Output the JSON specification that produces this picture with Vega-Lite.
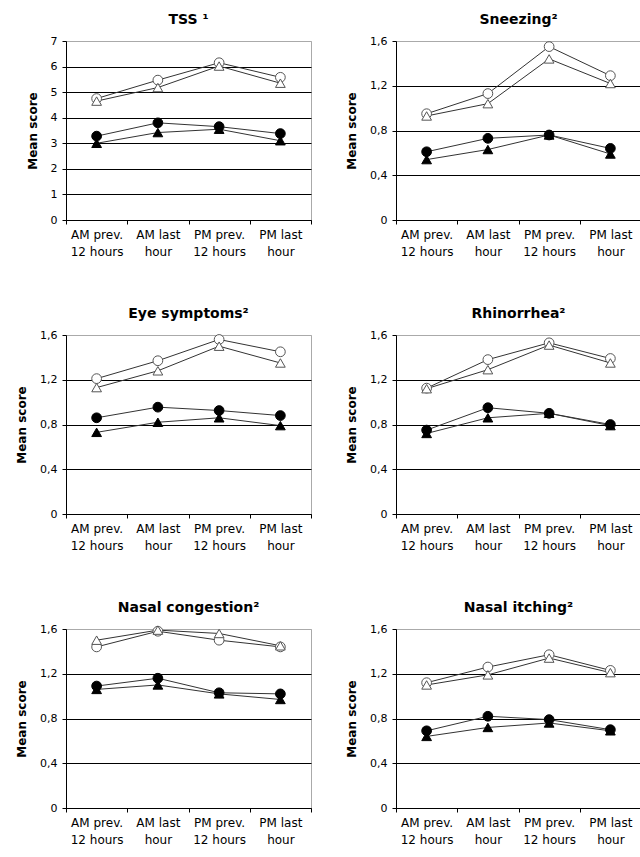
{
  "$schema": "https://vega.github.io/schema/vega-lite/v6.json",
  "background": "white",
  "padding": {"left": 15, "top": 12, "right": 0, "bottom": 0},
  "datasets": {
    "scores": [
      {"panel": "TSS", "time": "AM prev. 12 hours", "series": "open circle", "value": 4.75},
      {"panel": "TSS", "time": "AM last hour", "series": "open circle", "value": 5.47},
      {"panel": "TSS", "time": "PM prev. 12 hours", "series": "open circle", "value": 6.15},
      {"panel": "TSS", "time": "PM last hour", "series": "open circle", "value": 5.58},
      {"panel": "TSS", "time": "AM prev. 12 hours", "series": "open triangle", "value": 4.65},
      {"panel": "TSS", "time": "AM last hour", "series": "open triangle", "value": 5.18},
      {"panel": "TSS", "time": "PM prev. 12 hours", "series": "open triangle", "value": 6.02},
      {"panel": "TSS", "time": "PM last hour", "series": "open triangle", "value": 5.35},
      {"panel": "TSS", "time": "AM prev. 12 hours", "series": "filled circle", "value": 3.28},
      {"panel": "TSS", "time": "AM last hour", "series": "filled circle", "value": 3.8},
      {"panel": "TSS", "time": "PM prev. 12 hours", "series": "filled circle", "value": 3.65},
      {"panel": "TSS", "time": "PM last hour", "series": "filled circle", "value": 3.38},
      {"panel": "TSS", "time": "AM prev. 12 hours", "series": "filled triangle", "value": 3.0},
      {"panel": "TSS", "time": "AM last hour", "series": "filled triangle", "value": 3.42},
      {"panel": "TSS", "time": "PM prev. 12 hours", "series": "filled triangle", "value": 3.55},
      {"panel": "TSS", "time": "PM last hour", "series": "filled triangle", "value": 3.1},

      {"panel": "Sneezing", "time": "AM prev. 12 hours", "series": "open circle", "value": 0.95},
      {"panel": "Sneezing", "time": "AM last hour", "series": "open circle", "value": 1.13},
      {"panel": "Sneezing", "time": "PM prev. 12 hours", "series": "open circle", "value": 1.55},
      {"panel": "Sneezing", "time": "PM last hour", "series": "open circle", "value": 1.29},
      {"panel": "Sneezing", "time": "AM prev. 12 hours", "series": "open triangle", "value": 0.93},
      {"panel": "Sneezing", "time": "AM last hour", "series": "open triangle", "value": 1.04},
      {"panel": "Sneezing", "time": "PM prev. 12 hours", "series": "open triangle", "value": 1.44},
      {"panel": "Sneezing", "time": "PM last hour", "series": "open triangle", "value": 1.22},
      {"panel": "Sneezing", "time": "AM prev. 12 hours", "series": "filled circle", "value": 0.61},
      {"panel": "Sneezing", "time": "AM last hour", "series": "filled circle", "value": 0.73},
      {"panel": "Sneezing", "time": "PM prev. 12 hours", "series": "filled circle", "value": 0.76},
      {"panel": "Sneezing", "time": "PM last hour", "series": "filled circle", "value": 0.64},
      {"panel": "Sneezing", "time": "AM prev. 12 hours", "series": "filled triangle", "value": 0.54},
      {"panel": "Sneezing", "time": "AM last hour", "series": "filled triangle", "value": 0.63},
      {"panel": "Sneezing", "time": "PM prev. 12 hours", "series": "filled triangle", "value": 0.76},
      {"panel": "Sneezing", "time": "PM last hour", "series": "filled triangle", "value": 0.59},

      {"panel": "Eye symptoms", "time": "AM prev. 12 hours", "series": "open circle", "value": 1.21},
      {"panel": "Eye symptoms", "time": "AM last hour", "series": "open circle", "value": 1.37},
      {"panel": "Eye symptoms", "time": "PM prev. 12 hours", "series": "open circle", "value": 1.56},
      {"panel": "Eye symptoms", "time": "PM last hour", "series": "open circle", "value": 1.45},
      {"panel": "Eye symptoms", "time": "AM prev. 12 hours", "series": "open triangle", "value": 1.13},
      {"panel": "Eye symptoms", "time": "AM last hour", "series": "open triangle", "value": 1.28},
      {"panel": "Eye symptoms", "time": "PM prev. 12 hours", "series": "open triangle", "value": 1.5},
      {"panel": "Eye symptoms", "time": "PM last hour", "series": "open triangle", "value": 1.35},
      {"panel": "Eye symptoms", "time": "AM prev. 12 hours", "series": "filled circle", "value": 0.86},
      {"panel": "Eye symptoms", "time": "AM last hour", "series": "filled circle", "value": 0.955},
      {"panel": "Eye symptoms", "time": "PM prev. 12 hours", "series": "filled circle", "value": 0.925},
      {"panel": "Eye symptoms", "time": "PM last hour", "series": "filled circle", "value": 0.88},
      {"panel": "Eye symptoms", "time": "AM prev. 12 hours", "series": "filled triangle", "value": 0.73},
      {"panel": "Eye symptoms", "time": "AM last hour", "series": "filled triangle", "value": 0.82},
      {"panel": "Eye symptoms", "time": "PM prev. 12 hours", "series": "filled triangle", "value": 0.86},
      {"panel": "Eye symptoms", "time": "PM last hour", "series": "filled triangle", "value": 0.79},

      {"panel": "Rhinorrhea", "time": "AM prev. 12 hours", "series": "open circle", "value": 1.125},
      {"panel": "Rhinorrhea", "time": "AM last hour", "series": "open circle", "value": 1.38},
      {"panel": "Rhinorrhea", "time": "PM prev. 12 hours", "series": "open circle", "value": 1.53},
      {"panel": "Rhinorrhea", "time": "PM last hour", "series": "open circle", "value": 1.39},
      {"panel": "Rhinorrhea", "time": "AM prev. 12 hours", "series": "open triangle", "value": 1.12},
      {"panel": "Rhinorrhea", "time": "AM last hour", "series": "open triangle", "value": 1.29},
      {"panel": "Rhinorrhea", "time": "PM prev. 12 hours", "series": "open triangle", "value": 1.51},
      {"panel": "Rhinorrhea", "time": "PM last hour", "series": "open triangle", "value": 1.35},
      {"panel": "Rhinorrhea", "time": "AM prev. 12 hours", "series": "filled circle", "value": 0.75},
      {"panel": "Rhinorrhea", "time": "AM last hour", "series": "filled circle", "value": 0.95},
      {"panel": "Rhinorrhea", "time": "PM prev. 12 hours", "series": "filled circle", "value": 0.9},
      {"panel": "Rhinorrhea", "time": "PM last hour", "series": "filled circle", "value": 0.8},
      {"panel": "Rhinorrhea", "time": "AM prev. 12 hours", "series": "filled triangle", "value": 0.72},
      {"panel": "Rhinorrhea", "time": "AM last hour", "series": "filled triangle", "value": 0.86},
      {"panel": "Rhinorrhea", "time": "PM prev. 12 hours", "series": "filled triangle", "value": 0.9},
      {"panel": "Rhinorrhea", "time": "PM last hour", "series": "filled triangle", "value": 0.79},

      {"panel": "Nasal congestion", "time": "AM prev. 12 hours", "series": "open circle", "value": 1.44},
      {"panel": "Nasal congestion", "time": "AM last hour", "series": "open circle", "value": 1.58},
      {"panel": "Nasal congestion", "time": "PM prev. 12 hours", "series": "open circle", "value": 1.5},
      {"panel": "Nasal congestion", "time": "PM last hour", "series": "open circle", "value": 1.44},
      {"panel": "Nasal congestion", "time": "AM prev. 12 hours", "series": "open triangle", "value": 1.5},
      {"panel": "Nasal congestion", "time": "AM last hour", "series": "open triangle", "value": 1.59},
      {"panel": "Nasal congestion", "time": "PM prev. 12 hours", "series": "open triangle", "value": 1.56},
      {"panel": "Nasal congestion", "time": "PM last hour", "series": "open triangle", "value": 1.45},
      {"panel": "Nasal congestion", "time": "AM prev. 12 hours", "series": "filled circle", "value": 1.09},
      {"panel": "Nasal congestion", "time": "AM last hour", "series": "filled circle", "value": 1.16},
      {"panel": "Nasal congestion", "time": "PM prev. 12 hours", "series": "filled circle", "value": 1.03},
      {"panel": "Nasal congestion", "time": "PM last hour", "series": "filled circle", "value": 1.02},
      {"panel": "Nasal congestion", "time": "AM prev. 12 hours", "series": "filled triangle", "value": 1.06},
      {"panel": "Nasal congestion", "time": "AM last hour", "series": "filled triangle", "value": 1.1},
      {"panel": "Nasal congestion", "time": "PM prev. 12 hours", "series": "filled triangle", "value": 1.02},
      {"panel": "Nasal congestion", "time": "PM last hour", "series": "filled triangle", "value": 0.97},

      {"panel": "Nasal itching", "time": "AM prev. 12 hours", "series": "open circle", "value": 1.12},
      {"panel": "Nasal itching", "time": "AM last hour", "series": "open circle", "value": 1.26},
      {"panel": "Nasal itching", "time": "PM prev. 12 hours", "series": "open circle", "value": 1.37},
      {"panel": "Nasal itching", "time": "PM last hour", "series": "open circle", "value": 1.23},
      {"panel": "Nasal itching", "time": "AM prev. 12 hours", "series": "open triangle", "value": 1.1},
      {"panel": "Nasal itching", "time": "AM last hour", "series": "open triangle", "value": 1.19},
      {"panel": "Nasal itching", "time": "PM prev. 12 hours", "series": "open triangle", "value": 1.34},
      {"panel": "Nasal itching", "time": "PM last hour", "series": "open triangle", "value": 1.21},
      {"panel": "Nasal itching", "time": "AM prev. 12 hours", "series": "filled circle", "value": 0.69},
      {"panel": "Nasal itching", "time": "AM last hour", "series": "filled circle", "value": 0.82},
      {"panel": "Nasal itching", "time": "PM prev. 12 hours", "series": "filled circle", "value": 0.79},
      {"panel": "Nasal itching", "time": "PM last hour", "series": "filled circle", "value": 0.7},
      {"panel": "Nasal itching", "time": "AM prev. 12 hours", "series": "filled triangle", "value": 0.64},
      {"panel": "Nasal itching", "time": "AM last hour", "series": "filled triangle", "value": 0.72},
      {"panel": "Nasal itching", "time": "PM prev. 12 hours", "series": "filled triangle", "value": 0.76},
      {"panel": "Nasal itching", "time": "PM last hour", "series": "filled triangle", "value": 0.69}
    ]
  },
  "data": {"name": "scores"},
  "columns": 2,
  "spacing": {"row": 48, "column": 33},
  "concat": [
    {
      "title": "TSS ¹",
      "width": 245, "height": 179,
      "transform": [{"filter": "datum.panel == 'TSS'"}],
      "encoding": {
        "x": {"field": "time", "type": "nominal", "bandPosition": 0.5, "title": null,
              "sort": ["AM prev. 12 hours", "AM last hour", "PM prev. 12 hours", "PM last hour"],
              "scale": {"type": "band", "paddingInner": 0, "paddingOuter": 0}},
        "y": {"field": "value", "type": "quantitative", "title": "Mean score",
              "scale": {"domain": [0, 7], "nice": false, "zero": true},
              "axis": {"values": [0, 1, 2, 3, 4, 5, 6, 7],
                       "gridColor": {"condition": {"test": "datum.value == 7", "value": "#aaaaaa"}, "value": "black"}}}
      },
      "layer": [
        {"mark": {"type": "line", "color": "#333333", "strokeWidth": 1}, "encoding": {"detail": {"field": "series"}}},
        {"mark": {"type": "point", "size": 95, "strokeWidth": 1, "opacity": 1},
         "encoding": {
           "shape": {"field": "series", "legend": null, "scale": {"domain": ["open circle", "open triangle", "filled circle", "filled triangle"], "range": ["circle", "triangle-up", "circle", "triangle-up"]}},
           "fill": {"field": "series", "legend": null, "scale": {"domain": ["open circle", "open triangle", "filled circle", "filled triangle"], "range": ["white", "white", "black", "black"]}},
           "stroke": {"field": "series", "legend": null, "scale": {"domain": ["open circle", "open triangle", "filled circle", "filled triangle"], "range": ["#555555", "#555555", "black", "black"]}}
         }}
      ]
    },
    {
      "title": "Sneezing²",
      "width": 245, "height": 179,
      "transform": [{"filter": "datum.panel == 'Sneezing'"}],
      "encoding": {
        "x": {"field": "time", "type": "nominal", "bandPosition": 0.5, "title": null,
              "sort": ["AM prev. 12 hours", "AM last hour", "PM prev. 12 hours", "PM last hour"],
              "scale": {"type": "band", "paddingInner": 0, "paddingOuter": 0}},
        "y": {"field": "value", "type": "quantitative", "title": "Mean score",
              "scale": {"domain": [0, 1.6], "nice": false, "zero": true},
              "axis": {"values": [0, 0.4, 0.8, 1.2, 1.6],
                       "gridColor": {"condition": {"test": "datum.value >= 1.59", "value": "#aaaaaa"}, "value": "black"}}}
      },
      "layer": [
        {"mark": {"type": "line", "color": "#333333", "strokeWidth": 1}, "encoding": {"detail": {"field": "series"}}},
        {"mark": {"type": "point", "size": 95, "strokeWidth": 1, "opacity": 1},
         "encoding": {
           "shape": {"field": "series", "legend": null, "scale": {"domain": ["open circle", "open triangle", "filled circle", "filled triangle"], "range": ["circle", "triangle-up", "circle", "triangle-up"]}},
           "fill": {"field": "series", "legend": null, "scale": {"domain": ["open circle", "open triangle", "filled circle", "filled triangle"], "range": ["white", "white", "black", "black"]}},
           "stroke": {"field": "series", "legend": null, "scale": {"domain": ["open circle", "open triangle", "filled circle", "filled triangle"], "range": ["#555555", "#555555", "black", "black"]}}
         }}
      ]
    },
    {
      "title": "Eye symptoms²",
      "width": 245, "height": 179,
      "transform": [{"filter": "datum.panel == 'Eye symptoms'"}],
      "encoding": {
        "x": {"field": "time", "type": "nominal", "bandPosition": 0.5, "title": null,
              "sort": ["AM prev. 12 hours", "AM last hour", "PM prev. 12 hours", "PM last hour"],
              "scale": {"type": "band", "paddingInner": 0, "paddingOuter": 0}},
        "y": {"field": "value", "type": "quantitative", "title": "Mean score",
              "scale": {"domain": [0, 1.6], "nice": false, "zero": true},
              "axis": {"values": [0, 0.4, 0.8, 1.2, 1.6],
                       "gridColor": {"condition": {"test": "datum.value >= 1.59", "value": "#aaaaaa"}, "value": "black"}}}
      },
      "layer": [
        {"mark": {"type": "line", "color": "#333333", "strokeWidth": 1}, "encoding": {"detail": {"field": "series"}}},
        {"mark": {"type": "point", "size": 95, "strokeWidth": 1, "opacity": 1},
         "encoding": {
           "shape": {"field": "series", "legend": null, "scale": {"domain": ["open circle", "open triangle", "filled circle", "filled triangle"], "range": ["circle", "triangle-up", "circle", "triangle-up"]}},
           "fill": {"field": "series", "legend": null, "scale": {"domain": ["open circle", "open triangle", "filled circle", "filled triangle"], "range": ["white", "white", "black", "black"]}},
           "stroke": {"field": "series", "legend": null, "scale": {"domain": ["open circle", "open triangle", "filled circle", "filled triangle"], "range": ["#555555", "#555555", "black", "black"]}}
         }}
      ]
    },
    {
      "title": "Rhinorrhea²",
      "width": 245, "height": 179,
      "transform": [{"filter": "datum.panel == 'Rhinorrhea'"}],
      "encoding": {
        "x": {"field": "time", "type": "nominal", "bandPosition": 0.5, "title": null,
              "sort": ["AM prev. 12 hours", "AM last hour", "PM prev. 12 hours", "PM last hour"],
              "scale": {"type": "band", "paddingInner": 0, "paddingOuter": 0}},
        "y": {"field": "value", "type": "quantitative", "title": "Mean score",
              "scale": {"domain": [0, 1.6], "nice": false, "zero": true},
              "axis": {"values": [0, 0.4, 0.8, 1.2, 1.6],
                       "gridColor": {"condition": {"test": "datum.value >= 1.59", "value": "#aaaaaa"}, "value": "black"}}}
      },
      "layer": [
        {"mark": {"type": "line", "color": "#333333", "strokeWidth": 1}, "encoding": {"detail": {"field": "series"}}},
        {"mark": {"type": "point", "size": 95, "strokeWidth": 1, "opacity": 1},
         "encoding": {
           "shape": {"field": "series", "legend": null, "scale": {"domain": ["open circle", "open triangle", "filled circle", "filled triangle"], "range": ["circle", "triangle-up", "circle", "triangle-up"]}},
           "fill": {"field": "series", "legend": null, "scale": {"domain": ["open circle", "open triangle", "filled circle", "filled triangle"], "range": ["white", "white", "black", "black"]}},
           "stroke": {"field": "series", "legend": null, "scale": {"domain": ["open circle", "open triangle", "filled circle", "filled triangle"], "range": ["#555555", "#555555", "black", "black"]}}
         }}
      ]
    },
    {
      "title": "Nasal congestion²",
      "width": 245, "height": 179,
      "transform": [{"filter": "datum.panel == 'Nasal congestion'"}],
      "encoding": {
        "x": {"field": "time", "type": "nominal", "bandPosition": 0.5, "title": null,
              "sort": ["AM prev. 12 hours", "AM last hour", "PM prev. 12 hours", "PM last hour"],
              "scale": {"type": "band", "paddingInner": 0, "paddingOuter": 0}},
        "y": {"field": "value", "type": "quantitative", "title": "Mean score",
              "scale": {"domain": [0, 1.6], "nice": false, "zero": true},
              "axis": {"values": [0, 0.4, 0.8, 1.2, 1.6],
                       "gridColor": {"condition": {"test": "datum.value >= 1.59", "value": "#aaaaaa"}, "value": "black"}}}
      },
      "layer": [
        {"mark": {"type": "line", "color": "#333333", "strokeWidth": 1}, "encoding": {"detail": {"field": "series"}}},
        {"mark": {"type": "point", "size": 95, "strokeWidth": 1, "opacity": 1},
         "encoding": {
           "shape": {"field": "series", "legend": null, "scale": {"domain": ["open circle", "open triangle", "filled circle", "filled triangle"], "range": ["circle", "triangle-up", "circle", "triangle-up"]}},
           "fill": {"field": "series", "legend": null, "scale": {"domain": ["open circle", "open triangle", "filled circle", "filled triangle"], "range": ["white", "white", "black", "black"]}},
           "stroke": {"field": "series", "legend": null, "scale": {"domain": ["open circle", "open triangle", "filled circle", "filled triangle"], "range": ["#555555", "#555555", "black", "black"]}}
         }}
      ]
    },
    {
      "title": "Nasal itching²",
      "width": 245, "height": 179,
      "transform": [{"filter": "datum.panel == 'Nasal itching'"}],
      "encoding": {
        "x": {"field": "time", "type": "nominal", "bandPosition": 0.5, "title": null,
              "sort": ["AM prev. 12 hours", "AM last hour", "PM prev. 12 hours", "PM last hour"],
              "scale": {"type": "band", "paddingInner": 0, "paddingOuter": 0}},
        "y": {"field": "value", "type": "quantitative", "title": "Mean score",
              "scale": {"domain": [0, 1.6], "nice": false, "zero": true},
              "axis": {"values": [0, 0.4, 0.8, 1.2, 1.6],
                       "gridColor": {"condition": {"test": "datum.value >= 1.59", "value": "#aaaaaa"}, "value": "black"}}}
      },
      "layer": [
        {"mark": {"type": "line", "color": "#333333", "strokeWidth": 1}, "encoding": {"detail": {"field": "series"}}},
        {"mark": {"type": "point", "size": 95, "strokeWidth": 1, "opacity": 1},
         "encoding": {
           "shape": {"field": "series", "legend": null, "scale": {"domain": ["open circle", "open triangle", "filled circle", "filled triangle"], "range": ["circle", "triangle-up", "circle", "triangle-up"]}},
           "fill": {"field": "series", "legend": null, "scale": {"domain": ["open circle", "open triangle", "filled circle", "filled triangle"], "range": ["white", "white", "black", "black"]}},
           "stroke": {"field": "series", "legend": null, "scale": {"domain": ["open circle", "open triangle", "filled circle", "filled triangle"], "range": ["#555555", "#555555", "black", "black"]}}
         }}
      ]
    }
  ],
  "resolve": {"scale": {"y": "independent", "shape": "independent", "fill": "independent", "stroke": "independent"}},
  "config": {
    "font": "DejaVu Sans",
    "view": {"stroke": "#aaaaaa", "strokeWidth": 1},
    "title": {"font": "DejaVu Sans", "fontSize": 14, "fontWeight": "bold", "color": "black", "offset": 8, "anchor": "middle"},
    "axis": {"domainColor": "black", "tickColor": "black", "labelColor": "black", "labelFont": "DejaVu Sans", "labelFontSize": 11, "titleColor": "black"},
    "axisX": {"grid": false, "tickBand": "extent", "tickSize": 4, "labelAngle": 0, "labelPadding": 5, "labelLineHeight": 17, "labelFontSize": 12,
              "labelExpr": "indexof(datum.label, 'prev.') >= 0 ? [slice(datum.label, 0, 8), slice(datum.label, 9)] : (indexof(datum.label, 'last') >= 0 ? [slice(datum.label, 0, 7), 'hour'] : '')"},
    "axisY": {"titleFont": "DejaVu Sans", "titleFontSize": 12, "titleFontWeight": "bold", "titlePadding": 11,
              "grid": true, "gridWidth": 1, "tickSize": 4, "labelPadding": 5, "labelFontSize": 11,
              "labelExpr": "replace(format(datum.value, '.1~f'), '.', ',')"}
  }
}
